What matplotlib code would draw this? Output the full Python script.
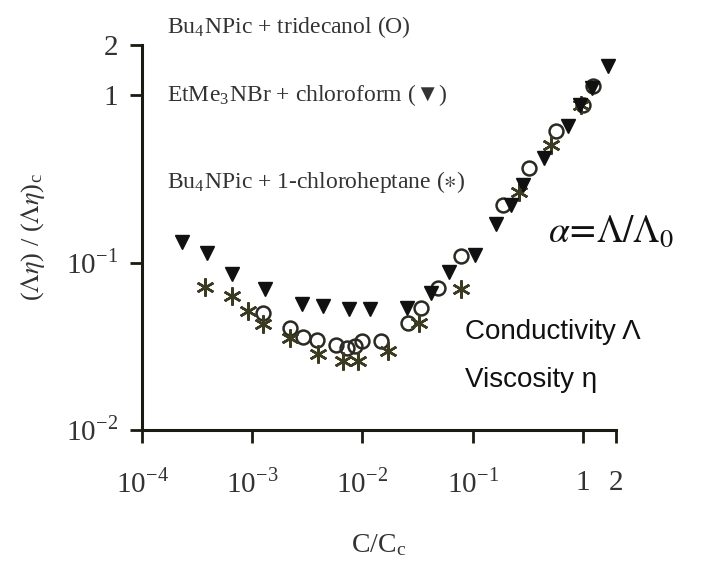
import matplotlib
matplotlib.use("Agg")
import matplotlib.pyplot as plt

plt.rcParams['font.family'] = ['Liberation Serif', 'DejaVu Sans']
plt.rcParams['mathtext.fontset'] = 'stix'

# EtMe3NBr + chloroform (filled down triangles)
tri_x = [2.3e-4, 3.9e-4, 6.6e-4, 1.32e-3, 2.85e-3, 4.4e-3, 7.5e-3, 1.18e-2, 2.56e-2,
         4.15e-2, 6.05e-2, 0.106, 0.162, 0.221, 0.285, 0.44, 0.73, 0.95, 1.2, 1.69]
tri_y = [0.133, 0.115, 0.086, 0.070, 0.0564, 0.055, 0.0527, 0.0527, 0.0535,
         0.0656, 0.0885, 0.111, 0.170, 0.220, 0.29, 0.42, 0.66, 0.88, 1.1, 1.5]

# Bu4NPic + tridecanol (open circles)
circ_x = [1.26e-3, 2.21e-3, 2.91e-3, 3.9e-3, 5.7e-3, 7.3e-3, 8.6e-3, 1.0e-2, 1.46e-2,
          2.57e-2, 3.37e-2, 0.049, 0.078, 0.187, 0.323, 0.57, 1.0, 1.23]
circ_y = [0.0499, 0.0407, 0.036, 0.0345, 0.0323, 0.031, 0.0318, 0.0341, 0.0341,
          0.0436, 0.0535, 0.071, 0.109, 0.22, 0.37, 0.61, 0.87, 1.13]

# Bu4NPic + 1-chloroheptane (asterisks)
star_x = [3.74e-4, 6.6e-4, 9.2e-4, 1.26e-3, 2.21e-3, 3.98e-3, 6.6e-3, 9.2e-3, 1.69e-2,
          3.23e-2, 0.078, 0.262, 0.51, 0.96]
star_y = [0.072, 0.063, 0.0513, 0.043, 0.0355, 0.0286, 0.026, 0.026, 0.0297,
          0.0436, 0.070, 0.263, 0.506, 0.87]

xticks = [1e-4, 1e-3, 1e-2, 1e-1, 1, 2]
xtick_labels = [r'10$^{\mathregular{-4}}$', r'10$^{\mathregular{-3}}$', r'10$^{\mathregular{-2}}$',
                r'10$^{\mathregular{-1}}$', '1', '2']
yticks = [1e-2, 1e-1, 1, 2]
ytick_labels = [r'10$^{\mathregular{-2}}$', r'10$^{\mathregular{-1}}$', '1', '2']

ink = '#1a1a12'

fig = plt.figure(figsize=(7.11, 5.63), dpi=100)
ax = fig.add_axes([142 / 711, 1 - 430 / 563, (616 - 142) / 711, (430 - 45) / 563])
ax.set_xscale('log')
ax.set_yscale('log')
ax.set_xlim(1e-4, 2)
ax.set_ylim(1e-2, 2)

ax.plot(circ_x, circ_y, 'o', ls='none', mfc='none', mec='#2a2a22', mew=1.8, ms=10, clip_on=False)
ax.plot(star_x, star_y, marker=(6, 2, 0), ls='none', color='#3b3b22', mew=1.8, ms=13, clip_on=False)
ax.plot(tri_x, tri_y, 'v', ls='none', color='#111111', ms=10.5, clip_on=False)

for s in ['top', 'right']:
    ax.spines[s].set_visible(False)
for s in ['left', 'bottom']:
    ax.spines[s].set_linewidth(2.2)
    ax.spines[s].set_color(ink)

ax.minorticks_off()
ax.set_xticks(xticks)
ax.set_xticklabels(xtick_labels)
ax.set_yticks(yticks)
ax.set_yticklabels(ytick_labels)
ax.tick_params(which='major', direction='out', length=9, width=2, color=ink,
               labelsize=21, labelcolor='#333333')
ax.tick_params(axis='x', pad=20)
ax.tick_params(axis='y', pad=8)

ax.set_xlabel(r'C/C$_{\mathregular{c}}$', fontsize=20, color='#333333', labelpad=24)
ax.set_ylabel(r'($\Lambda\eta$) / ($\Lambda\eta$)$_{\mathregular{c}}$', fontsize=19,
              color='#333333', labelpad=14)

fig.text(167 / 711, 1 - 27 / 563, r'Bu$_{\mathregular{4}}$NPic + tridecanol (O)',
         fontsize=17, color='#333333', va='center')
fig.text(167 / 711, 1 - 95 / 563, r'EtMe$_{\mathregular{3}}$NBr + chloroform (▼)',
         fontsize=17, color='#333333', va='center')
fig.text(167 / 711, 1 - 182 / 563, r'Bu$_{\mathregular{4}}$NPic + 1-chloroheptane ($\ast$)',
         fontsize=17, color='#333333', va='center')

fig.text(548 / 711, 1 - 232 / 563, r'$\alpha\!=\!\Lambda/\Lambda_0$', fontsize=27,
         color='#111111', va='center')
fig.text(465 / 711, 1 - 332 / 563, 'Conductivity Λ', family='Liberation Sans',
         fontsize=20, color='#111111', va='center')
fig.text(465 / 711, 1 - 380 / 563, 'Viscosity η', family='Liberation Sans',
         fontsize=20, color='#111111', va='center')

fig.savefig('out.png', dpi=100)
